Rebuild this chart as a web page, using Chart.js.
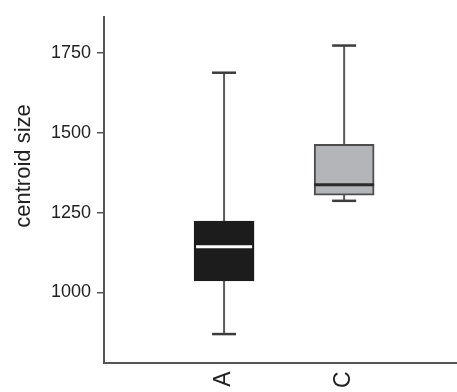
<!DOCTYPE html>
<html>
<head>
<meta charset="utf-8">
<script src="https://cdn.jsdelivr.net/npm/chart.js@4/dist/chart.umd.min.js"></script>
<style>
  body { margin: 0; background: #fff; }
</style>
</head>
<body>
<canvas id="boxchart" width="457" height="392"></canvas>
<script>
const groups = ['A', 'C'];
const whiskerLow = [870, 1287];
const q1 = [1036, 1305];
const median = [1143, 1337];
const q3 = [1224, 1464];
const whiskerHigh = [1688, 1773];
const yTicks = [1000, 1250, 1500, 1750];

const boxFill = ['#1c1c1c', '#b4b5b9'];
const boxBorder = ['#1c1c1c', '#4d4d4d'];
const medianColor = ['#ffffff', '#2a2a2a'];

// whiskers go under the boxes, medians and caps on top
const boxPlot = {
    id: 'boxPlot',
    beforeDatasetsDraw(chart) {
        const ctx = chart.ctx;
        const y = chart.scales.y;
        const meta = chart.getDatasetMeta(0);
        ctx.save();
        ctx.strokeStyle = '#5a5a5a';
        ctx.lineWidth = 2;
        meta.data.forEach((bar, i) => {
            ctx.beginPath();
            ctx.moveTo(bar.x, y.getPixelForValue(whiskerLow[i]));
            ctx.lineTo(bar.x, y.getPixelForValue(whiskerHigh[i]));
            ctx.stroke();
        });
        ctx.restore();
    },
    afterDatasetsDraw(chart) {
        const ctx = chart.ctx;
        const y = chart.scales.y;
        const meta = chart.getDatasetMeta(0);
        ctx.save();
        meta.data.forEach((bar, i) => {
            // caps
            ctx.strokeStyle = '#3c3c3c';
            ctx.lineWidth = 2.5;
            [whiskerLow[i], whiskerHigh[i]].forEach(v => {
                const py = y.getPixelForValue(v);
                ctx.beginPath();
                ctx.moveTo(bar.x - 12, py);
                ctx.lineTo(bar.x + 12, py);
                ctx.stroke();
            });
            // median
            const half = bar.width / 2 - (i === 0 ? 2 : 0);
            const my = y.getPixelForValue(median[i]);
            ctx.strokeStyle = medianColor[i];
            ctx.lineWidth = 3;
            ctx.beginPath();
            ctx.moveTo(bar.x - half, my);
            ctx.lineTo(bar.x + half, my);
            ctx.stroke();
        });
        ctx.restore();
    }
};

// y title sits a bit above the middle of the plot
const yTitle = {
    id: 'yTitle',
    afterDraw(chart) {
        const ctx = chart.ctx;
        ctx.save();
        ctx.translate(24, 166);
        ctx.rotate(-Math.PI / 2);
        ctx.font = '22px "Liberation Sans", Arial, sans-serif';
        ctx.fillStyle = '#222';
        ctx.textAlign = 'center';
        ctx.textBaseline = 'middle';
        ctx.fillText('centroid size', 0, 0);
        ctx.restore();
    }
};

new Chart('boxchart', {
    type: 'bar',
    data: {
        datasets: [{
            data: groups.map((g, i) => ({ x: i + 1, y: [q1[i], q3[i]] })),
            backgroundColor: boxFill,
            borderColor: boxBorder,
            borderWidth: 2,
            borderSkipped: false,
            barThickness: 60
        }]
    },
    options: {
        responsive: false,
        animation: false,
        devicePixelRatio: 1,
        layout: { padding: { top: 12, left: 0, right: 0, bottom: 0 } },
        plugins: {
            legend: { display: false },
            tooltip: { enabled: false }
        },
        scales: {
            x: {
                type: 'linear',
                offset: false,
                min: 0,
                max: 2.94,
                afterBuildTicks: (s) => { s.ticks = groups.map((g, i) => ({ value: i + 1 })); },
                afterFit: (s) => { s.height = 29.5; },
                grid: { display: false, drawTicks: false },
                border: { display: true, color: '#555', width: 2 },
                ticks: {
                    autoSkip: false,
                    minRotation: 90,
                    maxRotation: 90,
                    padding: 9,
                    color: '#222',
                    font: { family: '"Liberation Sans", Arial, sans-serif', size: 23 },
                    callback: (v) => groups[v - 1]
                }
            },
            y: {
                min: 781,
                max: 1863,
                afterBuildTicks: (s) => { s.ticks = yTicks.map(v => ({ value: v })); },
                afterFit: (s) => { s.width = 104; },
                grid: {
                    drawOnChartArea: false,
                    drawTicks: true,
                    tickLength: 7,
                    color: '#555',
                    lineWidth: 1.5
                },
                border: { display: true, color: '#555', width: 2 },
                ticks: {
                    padding: 6,
                    color: '#222',
                    font: { family: '"Liberation Sans", Arial, sans-serif', size: 18 },
                    callback: (v) => String(v)
                }
            }
        }
    },
    plugins: [boxPlot, yTitle]
});
</script>
</body>
</html>
